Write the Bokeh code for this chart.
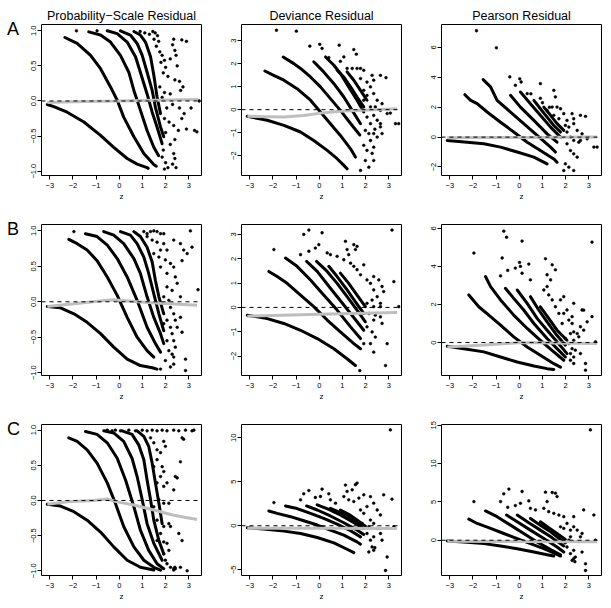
from bokeh.plotting import figure
from bokeh.layouts import gridplot, row, column
from bokeh.models import Range1d, FixedTicker, Span, Div
from bokeh.embed import file_html
from bokeh.resources import INLINE

FONT = "Liberation Sans"
X_TICKS = [-3, -2, -1, 0, 1, 2, 3]
X_LABELS = ["\u22123", "\u22122", "\u22121", "0", "1", "2", "3"]
X_LIM = (-3.36, 3.55)
COL_TITLES = ["Probability\u2212Scale Residual", "Deviance Residual", "Pearson Residual"]
ROW_LETTERS = ["A", "B", "C"]

PROB_TICKS = [-1.0, -0.5, 0.0, 0.5, 1.0]
PROB_LABELS = ["\u22121.0", "\u22120.5", "0.0", "0.5", "1.0"]

# ---------------- Row A ----------------
A1_curves = [
    [(-3.11, -0.05), (-2.83, -0.08), (-2.25, -0.16), (-1.53, -0.30), (-0.81, -0.49), (-0.24, -0.66), (0.34, -0.82), (0.77, -0.90), (1.2, -0.95), (1.25, -0.96)],
    [(-2.35, 0.905), (-1.82, 0.82), (-1.24, 0.65), (-0.81, 0.46), (-0.38, 0.2), (-0.09, 0.01), (0.19, -0.23), (0.63, -0.51), (1.06, -0.75), (1.49, -0.905), (1.6, -0.93)],
    [(-1.32, 0.985), (-0.81, 0.94), (-0.38, 0.84), (0.05, 0.65), (0.41, 0.41), (0.63, 0.15), (0.91, -0.13), (1.2, -0.42), (1.49, -0.66), (1.7, -0.78)],
    [(-0.52, 1.0), (-0.09, 0.96), (0.34, 0.84), (0.7, 0.63), (0.91, 0.41), (1.2, 0.1), (1.42, -0.16), (1.63, -0.37), (1.85, -0.61)],
    [(0.05, 1.0), (0.48, 0.94), (0.77, 0.82), (0.99, 0.65), (1.2, 0.41), (1.42, 0.15), (1.56, -0.09), (1.78, -0.37), (1.92, -0.51)],
    [(0.63, 0.99), (0.91, 0.94), (1.13, 0.84), (1.35, 0.63), (1.49, 0.37), (1.63, 0.06), (1.78, -0.18)],
]
A1_scatter = [(-1.85, 1.0), (-0.96, 1.0), (0.9, 0.99), (1.1, 0.97), (1.3, 0.95), (1.45, 0.99), (1.55, 0.97), (1.65, 0.93),
              (1.5, 0.88), (1.7, 0.85), (1.6, 0.78), (1.75, 0.7), (1.85, 0.65), (1.95, 0.58), (1.8, 0.55), (2.0, 0.48),
              (1.9, 0.4), (2.1, 0.35), (2.2, 0.6), (2.3, 0.8), (2.35, 0.88), (2.4, 0.72), (2.45, 0.65), (2.5, 0.5),
              (2.4, 0.3), (2.6, 0.28), (2.75, 0.2), (2.65, 0.15), (2.9, 0.85), (2.7, 0.87), (1.75, 0.2), (1.95, 0.12),
              (2.2, 0.1), (1.85, 0.05), (2.05, -0.1), (2.3, -0.05), (2.6, -0.1), (2.8, -0.18), (3.1, -0.1), (1.95, -0.25),
              (2.15, -0.3), (2.35, -0.35), (2.7, -0.25), (2.9, -0.4), (3.25, -0.42), (3.35, -0.44), (2.0, -0.45),
              (2.2, -0.62), (2.4, -0.55), (2.55, -0.42), (1.9, -0.7), (2.35, -0.75), (2.4, -0.82), (2.0, -0.88),
              (2.3, -0.9), (1.95, -0.97), (2.1, -0.95), (2.45, -0.95), (1.85, -0.8), (3.45, 0.0)]
A1_smooth = [(-3.11, -0.02), (-2.0, -0.01), (0.0, 0.0), (1.5, 0.01), (3.4, 0.02)]
A1_ylim = (-1.062, 1.09)

A2_curves = [
    [(-3.11, -0.29), (-2.25, -0.46), (-1.53, -0.68), (-0.81, -0.97), (-0.24, -1.34), (0.34, -1.77), (0.77, -2.13), (1.06, -2.42), (1.2, -2.57)],
    [(-2.35, 1.68), (-1.97, 1.49), (-1.53, 1.28), (-0.96, 0.91), (-0.38, 0.41), (0.05, -0.1), (0.48, -0.61), (0.91, -1.12), (1.35, -1.7), (1.56, -2.06)],
    [(-1.56, 2.29), (-1.1, 2.0), (-0.81, 1.79), (-0.38, 1.42), (0.05, 0.99), (0.48, 0.48), (0.91, -0.03), (1.35, -0.6), (1.75, -1.1)],
    [(-0.24, 2.08), (0.19, 1.64), (0.63, 1.13), (1.06, 0.55), (1.42, -0.03), (1.78, -0.61)],
    [(0.27, 2.29), (0.63, 1.93), (0.91, 1.57), (1.27, 0.99), (1.63, 0.41), (1.92, -0.1)],
    [(0.77, 1.71), (1.06, 1.42), (1.35, 0.99), (1.63, 0.55), (1.92, 0.12)],
    [(1.2, 1.64), (1.49, 1.28), (1.78, 0.84), (2.06, 0.41)],
]
A2_scatter = [(-1.85, 3.45), (-0.99, 3.41), (-0.41, 2.76), (0.02, 2.84), (0.12, 2.66), (0.41, 2.26), (0.86, 2.8), (1.49, 2.61),
              (1.6, 2.41), (0.91, 2.1), (1.06, 2.29), (1.2, 1.79), (1.42, 1.79), (1.63, 1.79), (1.78, 1.79), (1.92, 1.71),
              (2.28, 1.49), (2.35, 1.28), (2.64, 1.49), (2.88, 1.39), (1.78, 1.35), (2.06, 1.2), (2.21, 0.99), (1.92, 0.84),
              (2.06, 0.62), (2.35, 0.7), (2.5, 0.41), (2.71, 0.26), (1.92, 0.41), (2.21, 0.12), (2.42, 0.12), (2.64, -0.03),
              (2.93, -0.17), (3.07, -0.15), (3.29, -0.61), (3.43, -0.61), (2.06, -0.32), (2.21, -0.61), (2.35, -0.25),
              (2.5, -0.46), (2.64, -0.61), (1.99, -0.9), (2.14, -1.04), (2.35, -1.04), (2.5, -1.19), (2.64, -0.75),
              (2.71, -1.04), (2.21, -1.34), (1.92, -1.55), (2.06, -1.77), (2.35, -1.63), (1.99, -2.21), (2.35, -2.21),
              (2.14, -2.5), (1.78, -2.64), (2.28, -1.9), (2.4, -0.85)]
A2_smooth = [(-3.11, -0.29), (-1.53, -0.32), (-0.67, -0.25), (0.05, -0.15), (0.91, -0.07), (1.78, -0.03), (2.64, 0.01), (3.36, 0.04)]
A2_ylim = (-2.86, 3.70)
A2_ticks = [-2, -1, 0, 1, 2, 3]

A3_curves = [
    [(-3.11, -0.22), (-2.25, -0.34), (-1.53, -0.45), (-0.81, -0.67), (-0.09, -1.0), (0.63, -1.34), (1.2, -1.79)],
    [(-2.35, 2.84), (-2.1, 2.46), (-1.82, 2.24), (-1.39, 1.68), (-0.81, 1.0), (-0.24, 0.34), (0.34, -0.34), (0.91, -0.9), (1.49, -1.46), (1.63, -1.68)],
    [(-1.56, 3.85), (-1.24, 3.36), (-0.96, 2.46), (-0.38, 1.68), (0.19, 0.9), (0.77, 0.11), (1.35, -0.67), (1.56, -1.0)],
    [(-0.38, 2.8), (0.05, 2.01), (0.63, 1.12), (1.2, 0.22), (1.63, -0.34)],
    [(0.05, 3.02), (0.48, 2.24), (0.91, 1.46), (1.35, 0.67), (1.78, 0.0)],
    [(0.63, 2.46), (0.91, 1.9), (1.2, 1.34), (1.49, 0.78), (1.78, 0.34)],
    [(1.06, 2.01), (1.35, 1.46), (1.63, 0.9), (1.92, 0.45)],
]
A3_scatter = [(-1.85, 7.12), (-0.99, 5.98), (-0.41, 4.03), (0.02, 3.9), (0.08, 3.69), (-0.17, 3.47), (0.34, 2.91), (0.91, 3.58),
              (1.49, 3.13), (1.56, 2.69), (1.2, 1.79), (1.42, 2.01), (1.63, 2.01), (1.78, 1.9), (1.49, 1.46), (1.71, 1.23),
              (1.92, 1.57), (2.06, 1.12), (2.28, 1.57), (2.35, 1.23), (2.64, 1.46), (2.86, 1.39), (1.99, 0.78), (2.14, 0.67),
              (2.35, 0.9), (2.5, 0.45), (2.71, 0.22), (2.21, 0.0), (2.35, -0.22), (2.57, -0.34), (2.93, -0.11), (3.22, -0.67),
              (3.36, -0.67), (2.06, -0.45), (2.21, -0.9), (2.35, -1.12), (2.5, -1.34), (1.99, -1.79), (2.14, -2.01),
              (1.92, -2.24), (2.35, -2.24), (2.64, -0.22), (2.06, 0.34), (0.5, 2.9), (0.91, 2.6), (1.0, 2.3), (1.3, 2.0)]
A3_smooth = [(-3.11, -0.04), (-1.5, -0.03), (0.0, -0.02), (1.5, -0.01), (3.36, 0.0)]
A3_ylim = (-2.57, 7.54)
A3_ticks = [-2, 0, 2, 4, 6]

# ---------------- Row B ----------------
B1_curves = [
    [(-3.11, -0.066), (-2.54, -0.085), (-1.96, -0.17), (-1.39, -0.29), (-0.81, -0.45), (-0.24, -0.64), (0.34, -0.81), (0.91, -0.9), (1.42, -0.93), (1.63, -0.95)],
    [(-2.18, 0.88), (-1.82, 0.82), (-1.39, 0.73), (-0.96, 0.58), (-0.52, 0.35), (-0.09, 0.09), (0.34, -0.22), (0.77, -0.5), (1.2, -0.69), (1.49, -0.78)],
    [(-1.46, 0.96), (-0.96, 0.92), (-0.52, 0.8), (-0.09, 0.61), (0.34, 0.35), (0.77, 0.02), (1.2, -0.36), (1.56, -0.59), (1.78, -0.71)],
    [(-0.67, 0.99), (-0.24, 0.94), (0.19, 0.82), (0.63, 0.61), (0.91, 0.4), (1.2, 0.07), (1.49, -0.22), (1.78, -0.45), (1.92, -0.59)],
    [(0.05, 0.99), (0.48, 0.94), (0.77, 0.82), (1.06, 0.63), (1.27, 0.4), (1.49, 0.11), (1.71, -0.17), (1.92, -0.41)],
    [(0.63, 0.99), (0.91, 0.92), (1.2, 0.77), (1.42, 0.56), (1.56, 0.3), (1.71, 0.07), (1.92, -0.17)],
]
B1_scatter = [(-1.96, 0.99), (1.06, 0.99), (1.2, 0.96), (1.35, 0.99), (1.49, 1.0), (1.63, 0.99), (1.78, 0.96), (1.92, 0.96),
              (1.2, 0.92), (1.42, 0.87), (1.63, 0.84), (1.92, 0.82), (1.78, 0.73), (2.06, 0.73), (1.49, 0.68), (1.71, 0.63),
              (1.99, 0.59), (2.21, 0.54), (1.78, 0.49), (2.06, 0.4), (2.35, 0.49), (2.42, 0.35), (2.35, 0.87), (2.64, 0.82),
              (2.78, 0.73), (2.93, 0.68), (3.14, 0.77), (3.07, 1.0), (2.71, 0.58), (2.5, 0.26), (2.64, 0.07), (2.28, 0.16),
              (2.06, 0.21), (1.92, 0.07), (2.14, 0.02), (1.85, -0.03), (2.21, -0.08), (2.35, -0.17), (2.64, -0.22),
              (2.42, -0.26), (2.06, -0.26), (1.92, -0.31), (2.21, -0.36), (2.5, -0.36), (2.71, -0.43), (2.28, -0.45),
              (2.06, -0.55), (2.35, -0.55), (2.42, -0.64), (2.14, -0.69), (2.28, -0.74), (2.35, -0.78), (1.99, -0.83),
              (2.35, -0.88), (3.4, 0.17), (2.86, -0.81), (2.86, -0.97), (1.78, -0.95), (2.21, -0.92)]
B1_smooth = [(-3.11, -0.066), (-1.96, -0.028), (-0.52, 0.02), (-0.24, 0.03), (0.63, 0.005), (1.78, -0.02), (3.36, -0.05)]
B1_ylim = (-1.04, 1.09)

B2_curves = [
    [(-3.11, -0.32), (-2.25, -0.46), (-1.53, -0.66), (-0.81, -0.94), (-0.09, -1.28), (0.63, -1.7), (1.2, -2.11), (1.56, -2.39)],
    [(-2.18, 1.48), (-1.82, 1.27), (-1.39, 0.99), (-0.81, 0.51), (-0.24, 0.03), (0.34, -0.52), (0.91, -1.01), (1.49, -1.49), (1.78, -1.7)],
    [(-1.46, 2.03), (-0.96, 1.69), (-0.38, 1.13), (0.19, 0.51), (0.77, -0.11), (1.35, -0.8), (1.78, -1.28)],
    [(-0.55, 1.89), (-0.09, 1.48), (0.48, 0.79), (1.06, 0.1), (1.63, -0.59), (1.92, -0.94)],
    [(-0.12, 1.89), (0.34, 1.48), (0.77, 0.99), (1.2, 0.44), (1.63, -0.11), (1.99, -0.59)],
    [(0.41, 1.69), (0.77, 1.27), (1.2, 0.72), (1.56, 0.23), (1.92, -0.25)],
    [(0.91, 1.41), (1.27, 0.99), (1.63, 0.51), (1.99, 0.03)],
]
B2_scatter = [(-1.96, 2.38), (-0.67, 3.0), (-0.45, 3.18), (-0.81, 2.17), (-0.45, 2.31), (-0.17, 2.44), (-0.02, 2.58), (0.12, 3.07),
              (0.34, 2.24), (0.48, 2.17), (0.77, 2.1), (1.13, 2.72), (1.2, 2.38), (1.27, 2.17), (1.49, 2.58), (1.56, 2.38),
              (1.63, 2.51), (1.06, 1.96), (1.35, 1.82), (1.49, 1.69), (1.63, 1.55), (1.78, 1.34), (1.92, 1.75), (2.06, 1.13),
              (2.21, 0.99), (2.35, 1.27), (2.57, 1.13), (2.71, 0.86), (2.78, 0.65), (2.35, 0.72), (2.5, 0.44), (2.28, 0.3),
              (2.06, 0.17), (2.35, 0.03), (2.64, 0.03), (2.14, -0.25), (2.42, -0.32), (2.64, -0.39), (2.35, -0.52),
              (2.71, -0.66), (2.06, -0.8), (2.28, -1.01), (2.42, -1.22), (2.21, -1.49), (2.35, -1.84), (1.92, -1.49),
              (2.64, 0.17), (3.43, 0.03), (3.14, 3.18), (3.22, 1.06), (2.93, -1.49), (2.86, -2.39), (1.75, -2.6)]
B2_smooth = [(-3.11, -0.36), (0.0, -0.28), (3.36, -0.21)]
B2_ylim = (-2.80, 3.41)
B2_ticks = [-2, -1, 0, 1, 2, 3]

B3_curves = [
    [(-3.11, -0.19), (-2.4, -0.32), (-1.53, -0.49), (-0.81, -0.76), (-0.09, -1.02), (0.63, -1.23), (1.2, -1.37), (1.49, -1.41)],
    [(-2.18, 2.5), (-1.75, 1.88), (-1.24, 1.36), (-0.81, 0.92), (-0.24, 0.3), (0.34, -0.23), (0.91, -0.67), (1.49, -1.11), (1.78, -1.29)],
    [(-1.46, 3.47), (-1.24, 2.94), (-0.81, 2.24), (-0.24, 1.44), (0.34, 0.74), (0.91, 0.12), (1.49, -0.49), (1.92, -0.93)],
    [(-0.6, 2.85), (-0.24, 2.32), (0.19, 1.71), (0.63, 1.0), (1.2, 0.21), (1.63, -0.32), (1.99, -0.76)],
    [(-0.09, 2.76), (0.34, 2.06), (0.77, 1.27), (1.2, 0.65), (1.63, 0.04), (2.06, -0.58)],
    [(0.48, 2.41), (0.84, 1.71), (1.2, 1.09), (1.56, 0.48), (1.99, -0.14)],
    [(0.91, 1.88), (1.27, 1.27), (1.63, 0.65), (2.06, 0.12)],
]
B3_scatter = [(-1.96, 4.7), (-0.67, 5.85), (-0.55, 5.53), (-0.74, 4.44), (-0.5, 3.79), (-0.81, 3.5), (-0.17, 3.91), (0.01, 4.21),
              (0.05, 4.0), (0.12, 5.33), (0.12, 3.64), (0.41, 4.12), (0.48, 3.29), (1.13, 4.4), (1.2, 3.56), (1.42, 4.08),
              (1.56, 3.82), (1.35, 3.29), (1.2, 2.94), (1.06, 2.76), (1.27, 2.5), (1.42, 2.24), (1.56, 1.88), (1.78, 2.24),
              (1.92, 2.41), (1.71, 1.53), (1.92, 1.53), (2.06, 1.71), (2.14, 1.18), (1.85, 1.0), (2.28, 1.0), (2.35, 0.56),
              (2.21, 0.47), (2.5, 0.47), (2.64, 0.83), (2.78, 0.65), (2.93, 1.09), (2.71, 1.71), (2.28, 1.36), (2.35, 2.06),
              (2.57, 0.3), (2.35, 0.12), (1.99, 0.21), (2.14, -0.05), (2.28, -0.32), (2.42, -0.4), (2.21, -0.58),
              (2.35, -0.76), (2.21, -0.93), (2.35, -1.1), (2.64, -0.58), (3.14, 1.36), (3.29, 0.04), (3.14, 5.27),
              (2.78, 1.7), (2.86, -1.1), (2.86, -1.45)]
B3_smooth = [(-3.11, -0.23), (-1.5, -0.13), (0.05, 0.0), (1.5, -0.02), (3.36, -0.05)]
B3_ylim = (-1.73, 6.2)
B3_ticks = [0, 2, 4, 6]

# ---------------- Row C ----------------
C1_curves = [
    [(-3.11, -0.055), (-2.54, -0.08), (-1.96, -0.16), (-1.39, -0.28), (-0.81, -0.45), (-0.24, -0.66), (0.34, -0.85), (0.91, -0.95), (1.49, -0.99)],
    [(-2.18, 0.89), (-1.82, 0.84), (-1.39, 0.72), (-0.96, 0.53), (-0.52, 0.25), (-0.17, -0.04), (0.19, -0.37), (0.63, -0.66), (1.06, -0.85), (1.49, -0.95), (1.78, -0.99)],
    [(-1.46, 0.98), (-0.96, 0.94), (-0.52, 0.82), (-0.09, 0.6), (0.27, 0.29), (0.63, -0.09), (0.91, -0.42), (1.27, -0.71), (1.63, -0.9), (1.92, -0.97)],
    [(-0.67, 0.99), (-0.24, 0.96), (0.19, 0.84), (0.55, 0.6), (0.77, 0.34), (0.99, 0.01), (1.2, -0.33), (1.49, -0.61), (1.85, -0.85)],
    [(0.12, 0.99), (0.55, 0.94), (0.84, 0.79), (1.06, 0.58), (1.2, 0.29), (1.35, 0.01), (1.49, -0.28), (1.71, -0.57), (1.92, -0.76)],
    [(0.77, 0.99), (1.06, 0.91), (1.27, 0.77), (1.42, 0.53), (1.56, 0.25), (1.71, -0.04), (1.85, -0.33)],
]
C1_scatter = [(-0.52, 1.0), (-0.31, 0.99), (-0.17, 1.0), (0.05, 0.99), (0.41, 1.0), (0.7, 0.99), (0.99, 1.0), (1.2, 0.99),
              (1.42, 1.0), (1.63, 0.99), (1.85, 1.0), (2.06, 0.99), (2.35, 1.0), (2.57, 0.99), (2.86, 1.0), (3.14, 0.99),
              (3.22, 1.0), (1.35, 0.89), (1.49, 0.82), (1.63, 0.72), (1.78, 0.68), (1.92, 0.84), (1.99, 0.77), (1.49, 0.48),
              (1.63, 0.58), (1.85, 0.48), (1.92, 0.41), (1.78, 0.34), (1.63, 0.25), (1.92, 0.2), (2.06, 0.25), (1.71, 0.01),
              (1.49, -0.09), (1.92, -0.04), (2.14, -0.04), (1.78, -0.18), (1.63, -0.28), (1.92, -0.37), (2.14, -0.33),
              (2.21, -0.37), (1.78, -0.47), (1.63, -0.57), (1.92, -0.59), (2.06, -0.61), (2.14, -0.71), (1.92, -0.76),
              (1.99, -0.85), (2.06, -0.9), (2.21, -0.95), (2.35, -0.97), (2.42, -0.97), (2.64, -0.95), (2.93, -1.0),
              (2.42, 0.34), (2.5, 0.32), (2.35, 0.15), (2.57, -0.47), (2.71, -0.57), (2.64, 0.55), (2.71, 0.89),
              (2.78, 0.87), (2.35, -0.99), (2.4, -0.95)]
C1_smooth = [(-3.11, -0.055), (-2.25, -0.017), (-1.1, 0.0), (-0.52, 0.02), (-0.09, -0.02), (0.63, -0.065), (1.49, -0.136), (2.35, -0.21), (3.36, -0.27)]
C1_ylim = (-1.067, 1.08)

C2_curves = [
    [(-3.11, -0.23), (-2.4, -0.38), (-1.53, -0.61), (-0.81, -0.88), (-0.09, -1.34), (0.63, -1.95), (1.2, -2.67), (1.49, -3.05)],
    [(-2.18, 1.68), (-1.82, 1.41), (-1.24, 1.03), (-0.67, 0.57), (-0.09, 0.08), (0.48, -0.5), (1.06, -1.07), (1.63, -1.83), (1.78, -2.1)],
    [(-1.46, 2.25), (-0.96, 1.95), (-0.38, 1.41), (0.19, 0.84), (0.77, 0.19), (1.35, -0.57), (1.78, -1.26)],
    [(-0.55, 2.25), (-0.09, 1.79), (0.48, 1.11), (1.06, 0.34), (1.56, -0.38), (1.92, -0.99)],
    [(-0.09, 2.37), (0.41, 1.87), (0.91, 1.22), (1.42, 0.46), (1.92, -0.31)],
    [(0.48, 1.98), (0.91, 1.49), (1.35, 0.84), (1.78, 0.08)],
    [(0.91, 1.79), (1.27, 1.3), (1.63, 0.65), (1.99, -0.04)],
]
C2_scatter = [(-1.96, 2.63), (-0.67, 3.63), (-0.45, 4.0), (-0.81, 2.94), (-0.17, 3.21), (0.12, 4.16), (0.05, 3.32), (0.41, 3.63),
              (0.48, 2.94), (0.7, 2.56), (1.13, 4.62), (1.2, 3.9), (1.42, 4.08), (1.56, 4.66), (1.63, 4.85), (1.06, 3.32),
              (1.27, 2.94), (1.49, 2.75), (1.71, 3.14), (1.92, 3.51), (2.06, 2.18), (1.78, 1.79), (1.92, 1.41), (2.21, 3.3),
              (2.35, 2.56), (2.5, 1.79), (2.64, 1.22), (2.78, 3.51), (3.14, 3.02), (2.21, 0.65), (2.35, 0.27), (2.14, -0.11),
              (2.5, -0.3), (2.64, -0.88), (2.35, -1.26), (2.21, -1.64), (2.06, -0.88), (2.28, -2.41), (2.35, -2.79),
              (2.14, -2.98), (2.71, -1.64), (2.93, -3.55), (2.86, -5.08), (3.07, 10.88), (3.22, -0.11), (1.85, 0.27),
              (2.4, -2.5)]
C2_smooth = [(-3.11, -0.27), (0.0, -0.28), (3.36, -0.3)]
C2_ylim = (-5.65, 11.5)
C2_ticks = [-5, 0, 5, 10]

C3_curves = [
    [(-3.11, -0.09), (-2.4, -0.22), (-1.53, -0.44), (-0.81, -0.75), (-0.09, -1.1), (0.63, -1.54), (1.2, -1.89), (1.49, -2.06)],
    [(-2.18, 2.76), (-1.82, 2.19), (-1.24, 1.54), (-0.67, 0.88), (-0.09, 0.22), (0.48, -0.44), (1.06, -1.1), (1.63, -1.84), (1.78, -2.06)],
    [(-1.46, 3.82), (-0.96, 3.07), (-0.38, 1.97), (0.19, 0.88), (0.77, -0.22), (1.35, -1.23), (1.78, -1.89)],
    [(-0.55, 3.29), (-0.09, 2.41), (0.48, 1.32), (1.06, 0.22), (1.63, -0.88), (1.92, -1.54)],
    [(-0.09, 3.29), (0.41, 2.28), (0.91, 1.32), (1.42, 0.31), (1.92, -0.75)],
    [(0.48, 2.85), (0.91, 1.97), (1.35, 1.1), (1.78, 0.09), (1.99, -0.35)],
    [(0.91, 2.41), (1.27, 1.62), (1.63, 0.88), (1.99, 0.09)],
]
C3_scatter = [(-1.96, 5.04), (-0.67, 6.05), (-0.45, 6.67), (-0.81, 5.04), (-0.5, 4.3), (-0.17, 4.52), (0.12, 6.36), (0.05, 4.82),
              (0.41, 5.13), (0.48, 4.17), (0.7, 3.95), (1.13, 6.27), (1.2, 5.04), (1.42, 6.23), (1.56, 6.14), (1.63, 5.7),
              (1.06, 4.17), (1.27, 3.73), (1.49, 3.51), (1.71, 3.29), (1.92, 3.07), (2.06, 2.19), (1.78, 1.75), (1.92, 1.54),
              (2.21, 1.32), (2.35, 3.07), (2.35, 1.75), (2.5, 1.32), (2.64, 0.44), (2.21, 0.44), (2.14, 0.0), (2.06, -0.88),
              (2.35, -1.32), (2.21, -1.75), (2.42, -2.19), (2.28, -2.63), (2.71, -1.54), (2.86, -3.07), (2.86, -3.95),
              (3.07, 14.39), (3.22, 3.29), (2.78, 3.95), (2.71, 0.88), (3.29, 0.0), (2.4, -2.8), (2.35, -2.4)]
C3_smooth = [(-3.11, -0.13), (0.0, -0.17), (3.36, -0.2)]
C3_ylim = (-4.6, 15.1)
C3_ticks = [0, 5, 10, 15]


def num_label(v):
    s = "%g" % abs(v)
    return ("\u2212" + s) if v < 0 else s


PANELS = [
    [(A1_curves, A1_scatter, A1_smooth, A1_ylim, PROB_TICKS, PROB_LABELS),
     (A2_curves, A2_scatter, A2_smooth, A2_ylim, A2_ticks, [num_label(t) for t in A2_ticks]),
     (A3_curves, A3_scatter, A3_smooth, A3_ylim, A3_ticks, [num_label(t) for t in A3_ticks])],
    [(B1_curves, B1_scatter, B1_smooth, B1_ylim, PROB_TICKS, PROB_LABELS),
     (B2_curves, B2_scatter, B2_smooth, B2_ylim, B2_ticks, [num_label(t) for t in B2_ticks]),
     (B3_curves, B3_scatter, B3_smooth, B3_ylim, B3_ticks, [num_label(t) for t in B3_ticks])],
    [(C1_curves, C1_scatter, C1_smooth, C1_ylim, PROB_TICKS, PROB_LABELS),
     (C2_curves, C2_scatter, C2_smooth, C2_ylim, C2_ticks, [num_label(t) for t in C2_ticks]),
     (C3_curves, C3_scatter, C3_smooth, C3_ylim, C3_ticks, [num_label(t) for t in C3_ticks])],
]

FRAME_W, FRAME_H = 160, 151
LETTER_W = 28
BORDER_LEFT = [13, 35, 35]
BORDER_RIGHT = [5, 5, 5]
BORDER_TOP = [24, 12, 12]
BORDER_BOTTOM = [37, 37, 31]
LETTER_PAD_TOP = [20, 8, 8]
LETTER_PAD_LEFT = 7

rows = []
for r in range(3):
    row_figs = []
    for c in range(3):
        curves, scat, smooth, ylim, yt, yl = PANELS[r][c]
        p = figure(frame_width=FRAME_W, frame_height=FRAME_H,
                   min_border_left=BORDER_LEFT[c], min_border_right=BORDER_RIGHT[c],
                   min_border_top=BORDER_TOP[r], min_border_bottom=BORDER_BOTTOM[r],
                   x_range=Range1d(*X_LIM), y_range=Range1d(*ylim),
                   output_backend="svg", toolbar_location=None,
                   title=COL_TITLES[c] if r == 0 else None)
        p.outline_line_color = "black"
        p.outline_line_width = 1
        p.outline_line_alpha = 1
        p.background_fill_color = "white"
        p.border_fill_color = "white"
        p.grid.visible = False
        if r == 0:
            p.title.align = "center"
            p.title.text_font = FONT
            p.title.text_font_size = "12.5px"
            p.title.text_font_style = "normal"
            p.title.text_color = "black"
            p.title.standoff = 3
            p.title.offset = 0
        for ax in (p.xaxis[0], p.yaxis[0]):
            ax.axis_line_color = None
            ax.major_tick_out = 4
            ax.major_tick_in = 0
            ax.minor_tick_line_color = None
            ax.major_tick_line_color = "black"
            ax.major_label_text_font = FONT
            ax.major_label_text_font_size = "7.5px"
            ax.major_label_text_color = "black"
        p.xaxis.major_label_standoff = 3
        p.yaxis.major_label_standoff = 1
        p.xaxis.ticker = FixedTicker(ticks=X_TICKS)
        p.xaxis.major_label_overrides = {t: l for t, l in zip(X_TICKS, X_LABELS)}
        p.xaxis.axis_label = "z"
        p.xaxis.axis_label_text_font = FONT
        p.xaxis.axis_label_text_font_size = "8px"
        p.xaxis.axis_label_text_font_style = "normal"
        p.xaxis.axis_label_text_color = "black"
        p.xaxis.axis_label_standoff = 1
        p.yaxis.ticker = FixedTicker(ticks=yt)
        p.yaxis.major_label_overrides = {t: l for t, l in zip(yt, yl)}
        p.yaxis.major_label_orientation = "vertical"

        p.add_layout(Span(location=0, dimension="width", line_color="black",
                          line_dash="4 4", line_width=1))
        for cv in curves:
            p.line([q[0] for q in cv], [q[1] for q in cv], line_color="black",
                   line_width=3, line_cap="round", line_join="round")
        p.scatter([q[0] for q in scat], [q[1] for q in scat], size=2.8,
                  marker="circle", fill_color="black", line_color="black", line_width=0.5)
        p.line([q[0] for q in smooth], [q[1] for q in smooth], line_color="#bebebe",
               line_width=3)
        row_figs.append(p)
    rows.append(row_figs)

grid = gridplot(rows, toolbar_location=None)

row_heights = [BORDER_TOP[r] + FRAME_H + BORDER_BOTTOM[r] for r in range(3)]
letters = []
for r in range(3):
    html = ('<div style="font-family:\'Liberation Sans\',Arial,sans-serif;font-size:18px;'
            'line-height:18px;color:black;padding-top:%dpx;padding-left:%dpx;">%s</div>'
            % (LETTER_PAD_TOP[r], LETTER_PAD_LEFT, ROW_LETTERS[r]))
    letters.append(Div(text=html, width=LETTER_W, height=row_heights[r], margin=0))

page = row(column(*letters, margin=0, spacing=0), grid, margin=0, spacing=0)

open("out.html", "w").write(file_html(page, INLINE))
